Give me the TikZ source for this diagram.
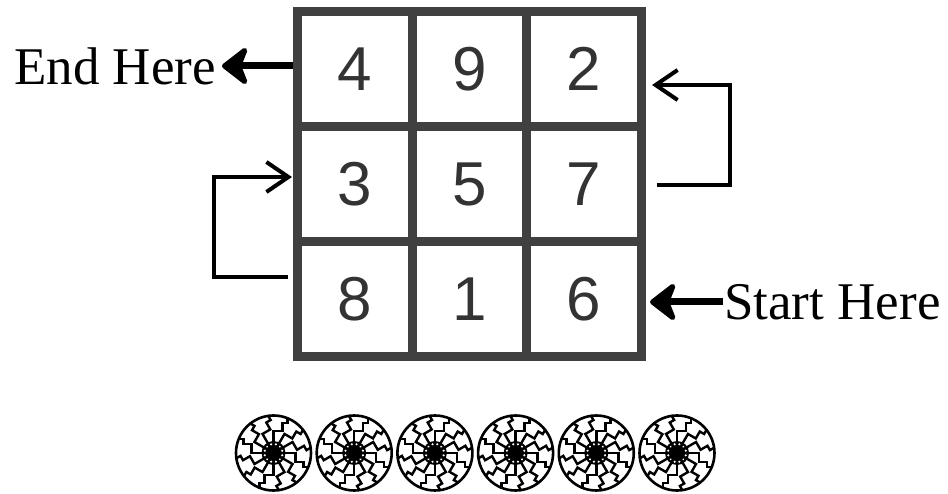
\documentclass[tikz,border=0pt]{standalone}
\usepackage{fontspec}
\setmainfont{Liberation Serif}
\newfontfamily\digitfont{Liberation Sans}
\usetikzlibrary{arrows.meta,calc}
\definecolor{gridgray}{HTML}{404040}
\definecolor{digitgray}{HTML}{333333}
\tikzset{
  sunwheel/.pic={
    \draw[line width=2.6pt] (0,0) circle (37.5);
    \fill (0,0) circle (12);
    \foreach \a in {0,30,...,330}{
      \draw[line width=2.4pt, rotate=\a, line join=miter]
        (0,-10) -- (0,-22) -- (9,-22) -- (9,-30) -- (14,-30) -- (14,-35.5);
      \fill[white, rotate=\a+15] (0,-9) circle (1.2);
    }
  }
}
\begin{document}
\begin{tikzpicture}[x=1pt,y=-1pt,
  cell/.style={draw=gridgray, line width=9pt, minimum width=114.7pt,
    minimum height=114.7pt, inner sep=0pt,
    font=\digitfont\fontsize{62}{62}\selectfont, text=digitgray},
  lbl/.style={font=\fontsize{53}{53}\selectfont, inner sep=1pt},
  bigarrow/.style={line width=7pt, -{Stealth[length=30pt,width=46pt,inset=9pt,round]}},
  looparrow/.style={line width=4pt, -{Straight Barb[length=22pt,width=30pt]}},
]
\useasboundingbox (0,0) rectangle (948,494);
% grid cells
\node[cell] (c11) at (354.8,69.3) {4};
\node[cell] (c12) at (469.5,69.3) {9};
\node[cell] (c13) at (584.2,69.3) {2};
\node[cell] (c21) at (354.8,184.0) {3};
\node[cell] (c22) at (469.5,184.0) {5};
\node[cell] (c23) at (584.2,184.0) {7};
\node[cell] (c31) at (354.8,298.7) {8};
\node[cell] (c32) at (469.5,298.7) {1};
\node[cell] (c33) at (584.2,298.7) {6};
% labels
\node[lbl, anchor=east] (endtxt) at (217,66) {End Here};
\node[lbl, anchor=west] (starttxt) at (723,302) {Start Here};
% thick arrows
\draw[bigarrow, shorten >=5pt] (c11.west |- endtxt.east) -- (endtxt.east);
\draw[bigarrow, shorten >=4pt] (starttxt.west) -- (c33.east |- starttxt.west);
% loop arrows
\coordinate (l1) at ($(c31.west)+(-4.5,-21.7)$);
\coordinate (l2) at ($(c21.west)+(-1,-7)$);
\draw[looparrow] (l1) -- ++(-74,0) |- (l2);
\coordinate (r1) at ($(c23.east)+(11,1)$);
\coordinate (r2) at ($(c13.east)+(6,15.7)$);
\draw[looparrow] (r1) -- ++(73,0) |- (r2);
% wheels
\foreach \i in {0,...,5}
  \pic at ({273.5+80.7*\i},453) {sunwheel};
\end{tikzpicture}
\end{document}
